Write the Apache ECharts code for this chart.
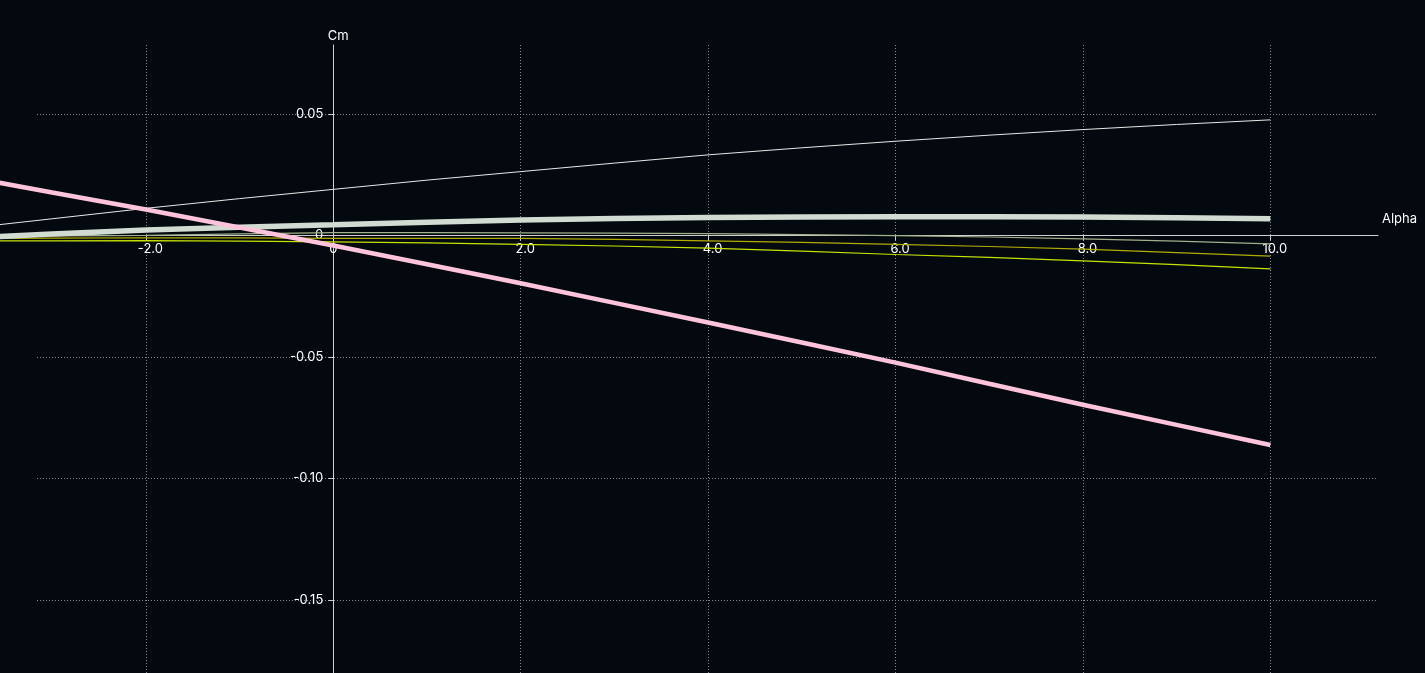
<!DOCTYPE html>
<html>
<head>
<meta charset="utf-8">
<style>
  html, body { margin: 0; padding: 0; background: #03090f; }
  #chart { width: 1425px; height: 673px; }
</style>
<script src="https://cdn.jsdelivr.net/npm/echarts@6/dist/echarts.min.js"></script>
</head>
<body>
<div id="chart"></div>
<script>
// ---- data ----
const alpha = [-4, -3, -2, -1, 0, 1, 2, 3, 4, 5, 6, 7, 8, 9, 10];
const cmThinWhite = [0.0026, 0.0069, 0.0112, 0.0152, 0.0190, 0.0228, 0.0263, 0.0298, 0.0332, 0.0361, 0.0388, 0.0413, 0.0436, 0.0457, 0.0476];
const cmThick = [-0.0011, 0.0006, 0.0023, 0.0034, 0.0044, 0.0055, 0.0064, 0.0070, 0.0074, 0.0076, 0.0077, 0.0077, 0.0076, 0.0073, 0.0069];
const cmGrayGreen = [-0.0005, -0.0002, 0.0001, 0.0007, 0.0012, 0.0012, 0.0011, 0.0010, 0.0008, 0.0004, 0.0000, -0.0006, -0.0014, -0.0023, -0.0034];
const cmOlive = [-0.0012, -0.0011, -0.0009, -0.0010, -0.0012, -0.0012, -0.0012, -0.0016, -0.0022, -0.0028, -0.0036, -0.0045, -0.0056, -0.0070, -0.0085];
const cmYellowGreen = [-0.0022, -0.0022, -0.0021, -0.0023, -0.0026, -0.0030, -0.0036, -0.0043, -0.0052, -0.0064, -0.0078, -0.0090, -0.0104, -0.0120, -0.0137];
const cmPink = [0.0248, 0.0177, 0.0107, 0.0033, -0.0041, -0.0118, -0.0196, -0.0277, -0.0358, -0.0440, -0.0523, -0.0610, -0.0696, -0.0779, -0.0862];
const xTicks = [-2, 0, 2, 4, 6, 8, 10];
const yTicks = [-0.15, -0.10, -0.05, 0, 0.05];

function pairs(ys) { return alpha.map((a, i) => [a, ys[i]]); }

const FONT = 'Inter, "Liberation Sans", sans-serif';
const TXT = '#ffffff';
const AXIS = '#cfcfcf';
const GRID = '#8a8a8a';

// plot frame (pixels)
const W = 1425, H = 673;
const G = { left: 37, right: 47, top: 45, bottom: 0 };
const X_MIN = -3.162, X_MAX = 11.149, Y_MIN = -0.18, Y_MAX = 0.0784;
const plotW = W - G.left - G.right, plotH = H - G.top - G.bottom;
const pxPerUnit = plotW / (X_MAX - X_MIN);
// the curves run on past the left end of the gridlines, up to the page edge:
// a second, invisible grid with the same scale that starts at x = 0
const X_MIN_CURVES = X_MIN - G.left / pxPerUnit;
// distance of the zero lines from the plot edges, so that the axes sit on zero
const yAxisOffset = -(plotW * (0 - X_MIN) / (X_MAX - X_MIN));
const xAxisOffset = -(plotH * (0 - Y_MIN) / (Y_MAX - Y_MIN));

function line(name, ys, color, width) {
  return {
    name: name, type: 'line', data: pairs(ys), showSymbol: false,
    xAxisIndex: 1, yAxisIndex: 1,
    lineStyle: { color: color, width: width }, itemStyle: { color: color },
    emphasis: { disabled: true }
  };
}

const hiddenAxis = { show: false, axisLine: { show: false }, axisTick: { show: false }, axisLabel: { show: false }, splitLine: { show: false } };

const chart = echarts.init(document.getElementById('chart'), null, { renderer: 'canvas' });
chart.setOption({
  animation: false,
  backgroundColor: '#03090f',
  grid: [
    { left: G.left, right: G.right, top: G.top, bottom: G.bottom, containLabel: false, outerBoundsMode: 'none' },
    { left: 0, right: G.right, top: G.top, bottom: G.bottom, containLabel: false, outerBoundsMode: 'none' }
  ],
  xAxis: [{
    type: 'value', min: X_MIN, max: X_MAX, position: 'bottom', offset: xAxisOffset, gridIndex: 0,
    name: 'Alpha', nameLocation: 'end', nameGap: 4,
    nameTextStyle: { color: TXT, fontSize: 13, fontFamily: FONT, verticalAlign: 'bottom', padding: [0, 0, 10, 0] },
    axisLine: { onZero: false, lineStyle: { color: AXIS, width: 1 } },
    axisTick: { show: true, length: 5, customValues: xTicks, lineStyle: { color: AXIS } },
    axisLabel: {
      customValues: xTicks, margin: 7, color: TXT, fontSize: 13, fontFamily: FONT,
      formatter: v => v === 0 ? '{z|0}' : '{n|' + v.toFixed(1) + '}',
      rich: {
        n: { color: TXT, fontSize: 13, fontFamily: FONT, padding: [0, 0, 0, 9] },
        z: { color: TXT, fontSize: 13, fontFamily: FONT }
      }
    },
    splitLine: { show: true, lineStyle: { color: GRID, width: 1, type: [1, 2] } }
  }, Object.assign({ type: 'value', min: X_MIN_CURVES, max: X_MAX, gridIndex: 1 }, hiddenAxis)],
  yAxis: [{
    type: 'value', min: Y_MIN, max: Y_MAX, position: 'left', offset: yAxisOffset, gridIndex: 0,
    name: 'Cm', nameLocation: 'end', nameGap: 2,
    nameTextStyle: { color: TXT, fontSize: 13, fontFamily: FONT, padding: [0, 0, 0, 10] },
    axisLine: { onZero: false, lineStyle: { color: AXIS, width: 1 } },
    axisTick: { show: true, length: 5, customValues: yTicks, lineStyle: { color: AXIS } },
    axisLabel: {
      customValues: yTicks, margin: 10, color: TXT, fontSize: 13, fontFamily: FONT,
      formatter: v => v === 0 ? '0' : v.toFixed(2)
    },
    splitLine: { show: true, lineStyle: { color: GRID, width: 1, type: [1, 2] } }
  }, Object.assign({ type: 'value', min: Y_MIN, max: Y_MAX, gridIndex: 1 }, hiddenAxis)],
  series: [
    line('Cm wing', cmThinWhite, '#e8e8e8', 1),
    line('Cm olive', cmOlive, '#b3ab00', 1.2),
    line('Cm yellow', cmYellowGreen, '#c6e200', 1.2),
    line('Cm tail', cmGrayGreen, '#a2b08a', 1.2),
    line('Cm body', cmThick, '#d1dbd1', 5.5),
    line('Cm total', cmPink, '#ffc4dc', 4.5)
  ]
});
</script>
</body>
</html>
